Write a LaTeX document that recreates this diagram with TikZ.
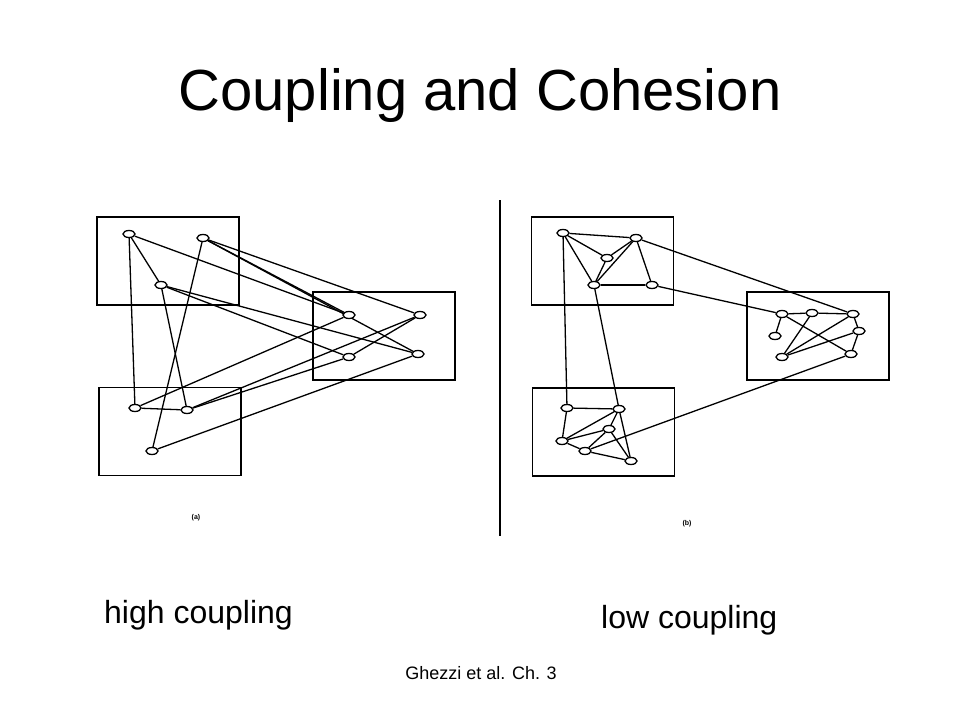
\documentclass[tikz,border=0pt]{standalone}
\usepackage{fontspec}
\setmainfont{Liberation Sans}
\usetikzlibrary{shapes.geometric, backgrounds}

\begin{document}
\begin{tikzpicture}[
        x=1pt, y=-1pt,
        module/.style={
            draw,
            line width=1.8pt,
            minimum width=142pt,
            minimum height=88pt,
            inner sep=0pt
        },
        vertex/.style={
            ellipse,
            draw,
            fill=white,
            line width=1.3pt,
            minimum width=12pt,
            minimum height=7pt,
            inner sep=0pt
        },
        link/.style={line width=1.3pt},
        caption/.style={font=\fontsize{32}{36}\selectfont, inner sep=0pt},
        tag/.style={font=\fontsize{7}{8}\selectfont\bfseries}
    ]
    \useasboundingbox (0,0) rectangle (960,720);

    \node[font=\fontsize{58}{62}\selectfont, anchor=base] (title) at (480,110) {Coupling and Cohesion};

    % high coupling
    \node[module] (modA) at (168,261) {};
    \node[module] (modB) at (384,336) {};
    \node[module] (modC) at (170,431.5) {};

    \node[vertex] (a1) at (129,234) {};
    \node[vertex] (a2) at (203,238) {};
    \node[vertex] (a3) at (161,285) {};
    \node[vertex] (b1) at (349,315) {};
    \node[vertex] (b2) at (420,315) {};
    \node[vertex] (b3) at (349,357) {};
    \node[vertex] (b4) at (418,354) {};
    \node[vertex] (c1) at (135,408) {};
    \node[vertex] (c2) at (187,410) {};
    \node[vertex] (c3) at (152,451) {};

    % low coupling
    \node[module] (modD) at (602.5,261) {};
    \node[module] (modE) at (818,336) {};
    \node[module] (modF) at (603.5,432) {};

    \node[vertex] (d1) at (563,233) {};
    \node[vertex] (d2) at (636,238) {};
    \node[vertex] (d3) at (607,258) {};
    \node[vertex] (d4) at (594,285) {};
    \node[vertex] (d5) at (652,285) {};
    \node[vertex] (e1) at (782,314) {};
    \node[vertex] (e2) at (812,313) {};
    \node[vertex] (e3) at (853,314) {};
    \node[vertex] (e4) at (859,331) {};
    \node[vertex] (e5) at (775,336) {};
    \node[vertex] (e6) at (782,357) {};
    \node[vertex] (e7) at (851,354) {};
    \node[vertex] (f1) at (567,408) {};
    \node[vertex] (f2) at (619,409) {};
    \node[vertex] (f3) at (609,429) {};
    \node[vertex] (f4) at (562,441) {};
    \node[vertex] (f5) at (585,451) {};
    \node[vertex] (f6) at (631,461) {};

    \begin{scope}[on background layer]
        \draw[link] (a1) -- (a3);
        \draw[link] (a1) -- (c1);
        \draw[link] (a1) -- (b1);
        \draw[link] (a2) -- (b1);
        \draw[link] (a2) -- (b4);
        \draw[link] (a2) -- (b2);
        \draw[link] (a2) -- (c3);
        \draw[link] (a3) -- (c2);
        \draw[link] (a3) -- (b3);
        \draw[link] (a3) -- (b4);
        \draw[link] (c1) -- (c2);
        \draw[link] (c1) -- (b1);
        \draw[link] (c2) -- (b2);
        \draw[link] (c2) -- (b3);
        \draw[link] (c3) -- (b4);
        \draw[link] (b2) -- (b3);

        \draw[link] (d1) -- (d2);
        \draw[link] (d1) -- (d4);
        \draw[link] (d1) -- (d3);
        \draw[link] (d2) -- (d3);
        \draw[link] (d2) -- (d4);
        \draw[link] (d2) -- (d5);
        \draw[link] (d3) -- (d4);
        \draw[link] (d4) -- (d5);
        \draw[link] (d1) -- (f1);
        \draw[link] (d4) -- (f2);
        \draw[link] (d2) -- (e3);
        \draw[link] (d5) -- (e1);
        \draw[link] (e1) -- (e2);
        \draw[link] (e2) -- (e3);
        \draw[link] (e1) -- (e5);
        \draw[link] (e1) -- (e7);
        \draw[link] (e2) -- (e6);
        \draw[link] (e3) -- (e6);
        \draw[link] (e3) -- (e4);
        \draw[link] (e4) -- (e6);
        \draw[link] (e4) -- (e7);
        \draw[link] (e7) -- (f5);
        \draw[link] (f1) -- (f2);
        \draw[link] (f1) -- (f4);
        \draw[link] (f2) -- (f4);
        \draw[link] (f2) -- (f3);
        \draw[link] (f2) -- (f6);
        \draw[link] (f3) -- (f4);
        \draw[link] (f3) -- (f5);
        \draw[link] (f3) -- (f6);
        \draw[link] (f4) -- (f5);
        \draw[link] (f5) -- (f6);
    \end{scope}

    \coordinate (divtop) at (500,200);
    \coordinate (divbot) at (500,536);
    \draw[line width=2.4pt] (divtop) -- (divbot);

    \node[tag] (taga) at (196,518) {(a)};
    \node[tag] (tagb) at (687,524) {(b)};

    \node[caption, anchor=base west] (high) at (104,623) {high coupling};
    \node[caption, anchor=base west] (low) at (601,628) {low coupling};
    \node[font=\fontsize{18}{20}\selectfont, anchor=base] (source) at (481,679) {Ghezzi et al. Ch. 3};

\end{tikzpicture}
\end{document}
